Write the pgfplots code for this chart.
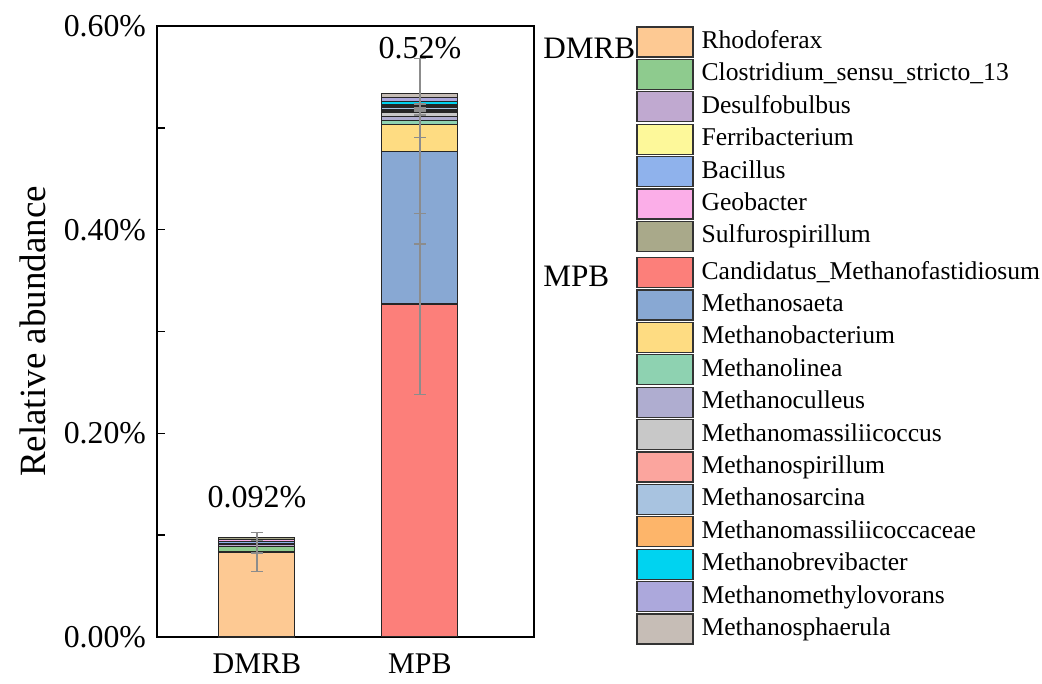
\documentclass[border=0pt]{standalone}
\usepackage{fontspec}
\setmainfont{Liberation Serif}
\usepackage{pgfplots}
\pgfplotsset{compat=1.18}
\definecolor{cRho}{HTML}{FDC993}
\definecolor{cClo}{HTML}{8ECB8E}
\definecolor{cDes}{HTML}{C0A9D0}
\definecolor{cFer}{HTML}{FDF89A}
\definecolor{cBac}{HTML}{8FB2EC}
\definecolor{cGeo}{HTML}{FBAEE8}
\definecolor{cSul}{HTML}{A9A98A}
\definecolor{cCan}{HTML}{FC7F7A}
\definecolor{cMsa}{HTML}{88A8D3}
\definecolor{cMba}{HTML}{FEDC82}
\definecolor{cMli}{HTML}{8ED2B1}
\definecolor{cMcu}{HTML}{AFADD0}
\definecolor{cMma}{HTML}{C8C8C8}
\definecolor{cMsp}{HTML}{FBA59E}
\definecolor{cMsr}{HTML}{A8C3E0}
\definecolor{cMmc}{HTML}{FDB56A}
\definecolor{cMbr}{HTML}{00D3F0}
\definecolor{cMme}{HTML}{ACA8DC}
\definecolor{cMsh}{HTML}{C6BDB6}
\pgfplotsset{
  swatch/.style={fill=#1, draw=black!85, line width=0.6pt,
    legend image code/.code={\draw[fill=#1,draw=black!80,line width=0.6pt] (0pt,-7.5pt) rectangle (28pt,7.5pt);}},
  base/.style={scale only axis, width=188.5pt, height=305.5pt,
    xmin=-0.613, xmax=1.70, ymin=0, ymax=0.6},
  mylegend/.style={legend cell align=left,
    legend style={at={(axis description cs:1.2706,#1)}, anchor=north west,
    draw=none, fill=none, inner sep=0pt, row sep=0.6pt, column sep=4pt,
    font=\fontsize{12.8}{14}\selectfont,
    nodes={inner sep=0pt, text height=9pt, text depth=2.5pt}}},
}
\begin{document}
\begin{tikzpicture}
\begin{axis}[
  base, clip=false,
  ybar stacked, bar width=38pt,
  xtick={0,1}, xticklabels={DMRB,MPB},
  major x tick style={draw=none},
  ytick={0,0.2,0.4,0.6}, minor ytick={0.1,0.3,0.5},
  ytick pos=left, tick align=inside,
  major tick length=4pt, minor tick length=4pt,
  every tick/.style={black, line width=0.8pt},
  axis line style={line width=1pt},
  /pgf/number format/assume math mode=true,
  yticklabel={\pgfmathprintnumber[fixed,fixed zerofill,precision=2]{\tick}\%},
  yticklabel style={font=\fontsize{15.9}{18}\selectfont, xshift=-2pt},
  xticklabel style={font=\fontsize{15}{18}\selectfont, yshift=-5pt},
  ylabel={Relative abundance},
  ylabel style={font=\fontsize{18.5}{21}\selectfont, at={(axis description cs:-0.329,0.5)}, anchor=center, rotate=0},
  mylegend=1.0,
]
% DMRB genera
\addplot[swatch=cRho] coordinates {(0,0.0835)}; \addlegendentry{Rhodoferax}
\addplot[swatch=cClo] coordinates {(0,0.005)}; \addlegendentry{Clostridium\_sensu\_stricto\_13}
\addplot[swatch=cDes] coordinates {(0,0.002)}; \addlegendentry{Desulfobulbus}
\addplot[swatch=cFer] coordinates {(0,0.0015)}; \addlegendentry{Ferribacterium}
\addplot[swatch=cBac] coordinates {(0,0.0015)}; \addlegendentry{Bacillus}
\addplot[swatch=cGeo] coordinates {(0,0.002)}; \addlegendentry{Geobacter}
\addplot[swatch=cSul] coordinates {(0,0.0025)}; \addlegendentry{Sulfurospirillum}
\node[font=\fontsize{16}{18}\selectfont] at (axis cs:0,0.1375) {0.092\%};
\node[font=\fontsize{16}{18}\selectfont] at (axis cs:1,0.578) {0.52\%};
\node[font=\fontsize{15.6}{18}\selectfont, anchor=west, inner sep=0pt] at (axis description cs:1.0239,0.964) {DMRB};
\node[font=\fontsize{15.6}{18}\selectfont, anchor=west, inner sep=0pt] at (axis description cs:1.0239,0.591) {MPB};
\coordinate (bbBL) at (axis description cs:-0.4164,-0.0769);
\coordinate (bbTR) at (axis description cs:2.3475,1.04255);
\end{axis}
\begin{axis}[
  base, hide axis,
  ybar stacked, bar width=38pt,
  mylegend=0.6227,
]
% MPB genera
\addplot[swatch=cCan] coordinates {(1,0.327)}; \addlegendentry{Candidatus\_Methanofastidiosum}
\addplot[swatch=cMsa] coordinates {(1,0.150)}; \addlegendentry{Methanosaeta}
\addplot[swatch=cMba] coordinates {(1,0.0265)}; \addlegendentry{Methanobacterium}
\addplot[swatch=cMli] coordinates {(1,0.004)}; \addlegendentry{Methanolinea}
\addplot[swatch=cMcu] coordinates {(1,0.004)}; \addlegendentry{Methanoculleus}
\addplot[swatch=cMma] coordinates {(1,0.004)}; \addlegendentry{Methanomassiliicoccus}
\addplot[swatch=cMsp] coordinates {(1,0.002)}; \addlegendentry{Methanospirillum}
\addplot[swatch=cMsr] coordinates {(1,0.003)}; \addlegendentry{Methanosarcina}
\addplot[swatch=cMmc] coordinates {(1,0.002)}; \addlegendentry{Methanomassiliicoccaceae}
\addplot[swatch=cMbr] coordinates {(1,0.003)}; \addlegendentry{Methanobrevibacter}
\addplot[swatch=cMme] coordinates {(1,0.004)}; \addlegendentry{Methanomethylovorans}
\addplot[swatch=cMsh] coordinates {(1,0.0045)}; \addlegendentry{Methanosphaerula}
\end{axis}
\begin{axis}[base, hide axis]
\addplot[draw=none, mark=none,
  error bars/.cd, y dir=both, y explicit,
  error bar style={draw=black!45, line width=0.7pt},
  error mark options={rotate=90, mark size=3pt, draw=black!45, line width=0.7pt}]
  coordinates {
    (0,0.0835) +- (0,0.019)
    (0,0.0885) +- (0,0.006)
    (1,0.327) +- (0,0.089)
    (1,0.477) +- (0,0.091)
    (1,0.5035) +- (0,0.013)
    (1,0.5155) +- (0,0.003)
    (1,0.5215) +- (0,0.002)
  };
\end{axis}
\pgfresetboundingbox
\path[use as bounding box] (bbBL) rectangle (bbTR);
\end{tikzpicture}
\end{document}
